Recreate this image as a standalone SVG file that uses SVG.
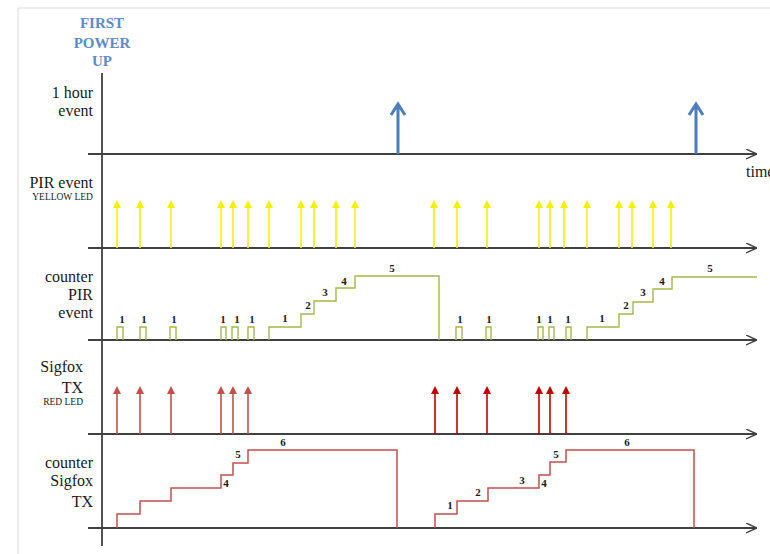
<svg xmlns="http://www.w3.org/2000/svg" width="770" height="554" viewBox="0 0 770 554">
<style>
.lbl{font-family:'Liberation Serif','DejaVu Serif',serif;font-size:16px;fill:#1a1a1a;text-anchor:end}
.small{font-family:'Liberation Serif','DejaVu Serif',serif;font-size:9.5px;fill:#1a1a1a;text-anchor:end}
.title{font-family:'Liberation Serif','DejaVu Serif',serif;font-size:15px;font-weight:bold;fill:#5b8cc8;text-anchor:middle}
.num{font-family:'Liberation Serif','DejaVu Serif',serif;font-size:11px;font-weight:bold;fill:#1a1a1a;text-anchor:middle}
.axis{stroke:#404040;stroke-width:1.8;fill:none}
.yel{stroke:#f2f200;stroke-width:1.6;fill:none}
.red1{stroke:#c0504d;stroke-width:1.6;fill:none}
.red2{stroke:#c00000;stroke-width:1.6;fill:none}
.cnt{stroke:#a3b84a;stroke-width:1.4;fill:none}
.cred{stroke:#c0504d;stroke-width:1.5;fill:none}
.blue{stroke:#4a7ebb;stroke-width:3;fill:none}
</style>
<defs>
<marker id="ax" viewBox="0 0 10 10" refX="10" refY="5" markerWidth="11" markerHeight="11" markerUnits="userSpaceOnUse" orient="auto">
<path d="M0,0.5 L10,5 L0,9.5" fill="none" stroke="#404040" stroke-width="1.3"/>
</marker>
<marker id="hy" viewBox="0 0 10 10" refX="0" refY="5" markerWidth="9" markerHeight="8" markerUnits="userSpaceOnUse" orient="auto">
<path d="M0,0 L10,5 L0,10 z" fill="#f2f200"/>
</marker>
<marker id="hr1" viewBox="0 0 10 10" refX="0" refY="5" markerWidth="9" markerHeight="8" markerUnits="userSpaceOnUse" orient="auto">
<path d="M0,0 L10,5 L0,10 z" fill="#c0504d"/>
</marker>
<marker id="hr2" viewBox="0 0 10 10" refX="0" refY="5" markerWidth="9" markerHeight="8" markerUnits="userSpaceOnUse" orient="auto">
<path d="M0,0 L10,5 L0,10 z" fill="#c00000"/>
</marker>
</defs>
<rect x="0" y="0" width="770" height="554" fill="#ffffff"/>
<path d="M18,554 V8 H770" fill="none" stroke="#d9d9d9" stroke-width="1"/>

<g id="labels">
<text class="title" x="102" y="28">FIRST</text>
<text class="title" x="102" y="47.5">POWER</text>
<text class="title" x="102" y="66">UP</text>
<text class="lbl" x="93" y="98">1 hour</text>
<text class="lbl" x="93" y="116">event</text>
<text class="lbl" x="93" y="188">PIR event</text>
<text class="small" x="93" y="200">YELLOW LED</text>
<text class="lbl" x="93" y="282">counter</text>
<text class="lbl" x="93" y="300">PIR</text>
<text class="lbl" x="93" y="318">event</text>
<text class="lbl" x="83" y="372">Sigfox</text>
<text class="lbl" x="83" y="393">TX</text>
<text class="small" x="83" y="405">RED LED</text>
<text class="lbl" x="93" y="468">counter</text>
<text class="lbl" x="93" y="486">Sigfox</text>
<text class="lbl" x="93" y="507">TX</text>
<text class="lbl" x="746" y="177" style="text-anchor:start">time</text>
</g>

<g id="axes">
<line class="axis" x1="102" y1="73" x2="102" y2="546"/>
<line class="axis" x1="88" y1="154" x2="757" y2="154" marker-end="url(#ax)"/>
<line class="axis" x1="88" y1="248" x2="757" y2="248" marker-end="url(#ax)"/>
<line class="axis" x1="88" y1="340" x2="757" y2="340" marker-end="url(#ax)"/>
<line class="axis" x1="88" y1="434" x2="757" y2="434" marker-end="url(#ax)"/>
<line class="axis" x1="88" y1="528" x2="757" y2="528" marker-end="url(#ax)"/>
</g>

<g id="hour-events">
<path class="blue" d="M398,154 V105 M391,115 L398,104 L405,115"/>
<path class="blue" d="M696,154 V105 M689,115 L696,104 L703,115"/>
</g>

<g id="pir-events">
<line class="yel" x1="117" y1="248" x2="117" y2="208" marker-end="url(#hy)"/>
<line class="yel" x1="140" y1="248" x2="140" y2="208" marker-end="url(#hy)"/>
<line class="yel" x1="171" y1="248" x2="171" y2="208" marker-end="url(#hy)"/>
<line class="yel" x1="221" y1="248" x2="221" y2="208" marker-end="url(#hy)"/>
<line class="yel" x1="233" y1="248" x2="233" y2="208" marker-end="url(#hy)"/>
<line class="yel" x1="248" y1="248" x2="248" y2="208" marker-end="url(#hy)"/>
<line class="yel" x1="269" y1="248" x2="269" y2="208" marker-end="url(#hy)"/>
<line class="yel" x1="301" y1="248" x2="301" y2="208" marker-end="url(#hy)"/>
<line class="yel" x1="314" y1="248" x2="314" y2="208" marker-end="url(#hy)"/>
<line class="yel" x1="336" y1="248" x2="336" y2="208" marker-end="url(#hy)"/>
<line class="yel" x1="355" y1="248" x2="355" y2="208" marker-end="url(#hy)"/>
<line class="yel" x1="434" y1="248" x2="434" y2="208" marker-end="url(#hy)"/>
<line class="yel" x1="457" y1="248" x2="457" y2="208" marker-end="url(#hy)"/>
<line class="yel" x1="487" y1="248" x2="487" y2="208" marker-end="url(#hy)"/>
<line class="yel" x1="539" y1="248" x2="539" y2="208" marker-end="url(#hy)"/>
<line class="yel" x1="550" y1="248" x2="550" y2="208" marker-end="url(#hy)"/>
<line class="yel" x1="564" y1="248" x2="564" y2="208" marker-end="url(#hy)"/>
<line class="yel" x1="587" y1="248" x2="587" y2="208" marker-end="url(#hy)"/>
<line class="yel" x1="619" y1="248" x2="619" y2="208" marker-end="url(#hy)"/>
<line class="yel" x1="632" y1="248" x2="632" y2="208" marker-end="url(#hy)"/>
<line class="yel" x1="653" y1="248" x2="653" y2="208" marker-end="url(#hy)"/>
<line class="yel" x1="671" y1="248" x2="671" y2="208" marker-end="url(#hy)"/>
</g>

<g id="counter-pir">
<path class="cnt" d="M117,340 V327 H123 V340 M140,340 V327 H146 V340 M170,340 V327 H176 V340 M221,340 V327 H226 V340 M232,340 V327 H238 V340 M248,340 V327 H254 V340"/>
<path class="cnt" d="M269,340 V327 H301 V314 H314 V301 H336 V288 H355 V276 H439 V340"/>
<path class="cnt" d="M456,340 V327 H462 V340 M486,340 V327 H491 V340 M538,340 V327 H543 V340 M549,340 V327 H554 V340 M566,340 V327 H571 V340"/>
<path class="cnt" d="M587,340 V327 H619 V314 H633 V302 H653 V289 H672 V277 H757"/>
<text class="num" x="122" y="323">1</text>
<text class="num" x="144" y="323">1</text>
<text class="num" x="174" y="323">1</text>
<text class="num" x="223" y="323">1</text>
<text class="num" x="237" y="323">1</text>
<text class="num" x="252" y="323">1</text>
<text class="num" x="285" y="322">1</text>
<text class="num" x="308" y="309">2</text>
<text class="num" x="325" y="296">3</text>
<text class="num" x="344" y="285">4</text>
<text class="num" x="392" y="272">5</text>
<text class="num" x="460" y="323">1</text>
<text class="num" x="489" y="323">1</text>
<text class="num" x="539" y="323">1</text>
<text class="num" x="550" y="323">1</text>
<text class="num" x="568" y="323">1</text>
<text class="num" x="602" y="322">1</text>
<text class="num" x="626" y="309">2</text>
<text class="num" x="643" y="296">3</text>
<text class="num" x="662" y="285">4</text>
<text class="num" x="710" y="272">5</text>
</g>

<g id="sigfox-tx">
<line class="red1" x1="117" y1="434" x2="117" y2="394" marker-end="url(#hr1)"/>
<line class="red1" x1="140" y1="434" x2="140" y2="394" marker-end="url(#hr1)"/>
<line class="red1" x1="171" y1="434" x2="171" y2="394" marker-end="url(#hr1)"/>
<line class="red1" x1="221" y1="434" x2="221" y2="394" marker-end="url(#hr1)"/>
<line class="red1" x1="233" y1="434" x2="233" y2="394" marker-end="url(#hr1)"/>
<line class="red1" x1="248" y1="434" x2="248" y2="394" marker-end="url(#hr1)"/>
<line class="red2" x1="435" y1="434" x2="435" y2="394" marker-end="url(#hr2)"/>
<line class="red2" x1="457" y1="434" x2="457" y2="394" marker-end="url(#hr2)"/>
<line class="red2" x1="487" y1="434" x2="487" y2="394" marker-end="url(#hr2)"/>
<line class="red2" x1="539" y1="434" x2="539" y2="394" marker-end="url(#hr2)"/>
<line class="red2" x1="550" y1="434" x2="550" y2="394" marker-end="url(#hr2)"/>
<line class="red2" x1="566" y1="434" x2="566" y2="394" marker-end="url(#hr2)"/>
</g>

<g id="counter-sigfox">
<path class="cred" d="M117,528 V514 H140 V501 H171 V488 H221 V475 H233 V463 H248 V450 H397 V528"/>
<path class="cred" d="M435,528 V514 H457 V501 H488 V488 H539 V475 H550 V462 H566 V450 H694 V528"/>
<text class="num" x="226" y="487">4</text>
<text class="num" x="238" y="458">5</text>
<text class="num" x="283" y="446">6</text>
<text class="num" x="450" y="509">1</text>
<text class="num" x="478" y="496">2</text>
<text class="num" x="522" y="484">3</text>
<text class="num" x="544" y="487">4</text>
<text class="num" x="556" y="458">5</text>
<text class="num" x="627" y="446">6</text>
</g>
</svg>
